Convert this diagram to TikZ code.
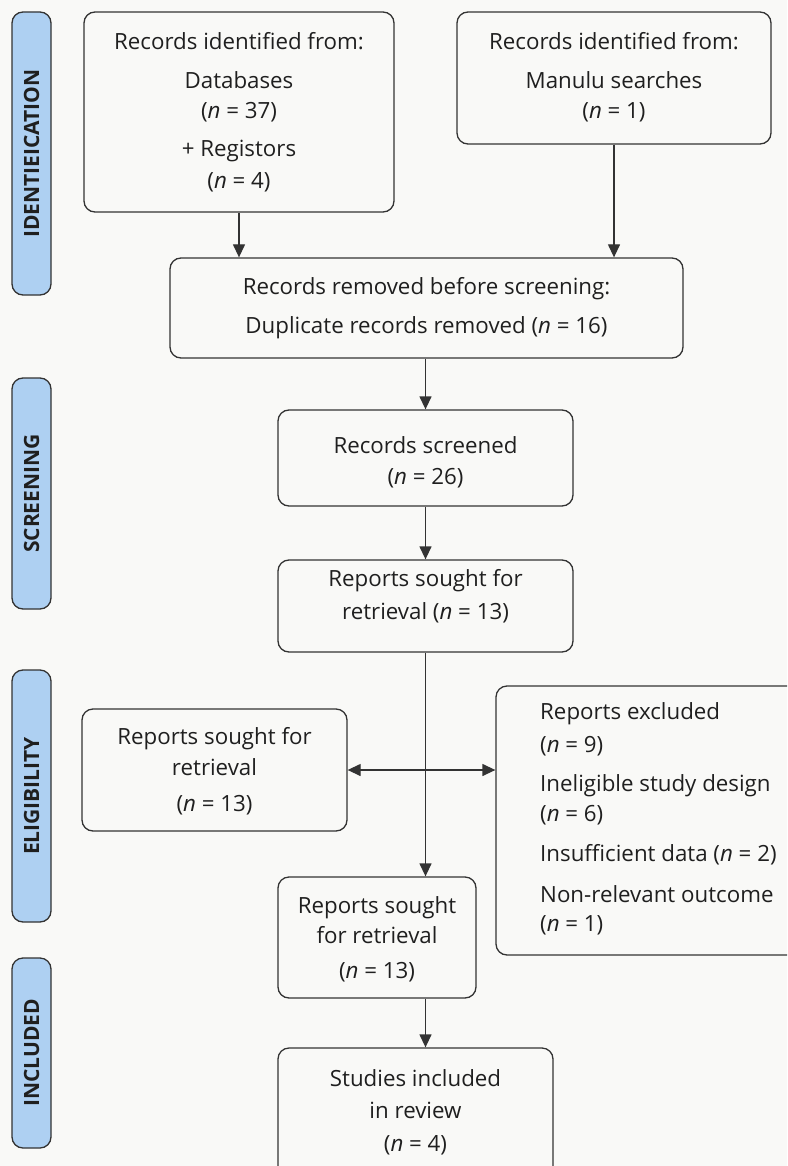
\documentclass[tikz,border=0pt]{standalone}
\usepackage{fontspec}
\setmainfont{Open Sans}
\usetikzlibrary{arrows.meta}
\definecolor{bg}{HTML}{F9F9F7}
\definecolor{ln}{HTML}{333333}
\definecolor{lab}{HTML}{AED0F2}
\tikzset{
  box/.style={draw=ln, line width=1.3pt, rounded corners=11pt, inner sep=0pt},
  txt/.style={align=center, inner sep=0pt, text=black!88, font=\fontsize{22.3}{30}\selectfont},
  side/.style={draw=ln, line width=1.3pt, fill=lab, rounded corners=11pt, rotate=90, inner sep=0pt,
    text=black!88, font=\fontsize{21}{22}\selectfont\bfseries},
  arr/.style={draw=ln, line width=1.3pt, -{Triangle[length=13pt,width=12pt]}},
  darr/.style={draw=ln, line width=1.3pt, {Triangle[length=13pt,width=12pt]}-{Triangle[length=13pt,width=12pt]}}
}
\begin{document}
\begin{tikzpicture}[x=1pt,y=-1pt]
\fill[bg] (0,0) rectangle (787,1166);
\useasboundingbox (0,0) rectangle (787,1166);
\clip (0,0) rectangle (787,1166);

% side labels
\node[side, minimum width=283pt, minimum height=39pt] (s1) at (31.5,153.5) {IDENTIEICATION};
\node[side, minimum width=231pt, minimum height=39pt] (s2) at (31.5,493.5) {SCREENING};
\node[side, minimum width=252pt, minimum height=39pt] (s3) at (31.5,796) {ELIGIBILITY};
\node[side, minimum width=190pt, minimum height=39pt] (s4) at (31.5,1053) {INCLUDED};

% boxes
\node[box, minimum width=310pt, minimum height=200pt] (b1) at (239,112) {};
\node[txt] (b1t) at (239,112.5) {Records identified from:\\[9pt]Databases\\(\textit{n} = 37)\\[8pt]+ Registors\\[2pt](\textit{n} = 4)};

\node[box, minimum width=314pt, minimum height=132pt] (b2) at (614,78) {};
\node[txt] (b2t) at (614,77.5) {Records identified from:\\[9pt]Manulu searches\\(\textit{n} = 1)};

\node[box, minimum width=513pt, minimum height=100pt] (b3) at (426.5,308) {};
\node[txt] (b3t) at (426.5,308.5) {Records removed before screening:\\[9pt]Duplicate records removed (\textit{n} = 16)};

\node[box, minimum width=295pt, minimum height=96pt] (sc) at (425.5,458) {};
\node[txt] (sct) at (425.5,462.5) {Records screened\\[1pt](\textit{n} = 26)};

\node[box, minimum width=295pt, minimum height=92pt] (r1) at (425.5,606) {};
\node[txt] (r1t) at (425.5,596.5) {Reports sought for\\[3pt]retrieval (\textit{n} = 13)};

\node[box, minimum width=265pt, minimum height=122pt] (el) at (214.5,770) {};
\node[txt] (elt) at (214.5,771.5) {Reports sought for\\[1pt]retrieval\\[6pt](\textit{n} = 13)};

\node[box, minimum width=304pt, minimum height=269pt] (ex) at (648,820.5) {};
\node[txt, align=left, anchor=west] (ext) at (540,819) {Reports excluded\\[3pt](\textit{n} = 9)\\[9pt]Ineligible study design\\(\textit{n} = 6)\\[10pt]Insufficient data (\textit{n} = 2)\\[11pt]Non-relevant outcome\\[-1pt](\textit{n} = 1)};

\node[box, minimum width=198pt, minimum height=121pt] (mid) at (377,937.5) {};
\node[txt] (midt) at (377,939.5) {Reports sought\\for retrieval\\[5pt](\textit{n} = 13)};

\node[box, minimum width=275pt, minimum height=134pt] (st) at (415.5,1115) {};
\node[txt] (stt) at (415.5,1112.5) {Studies included\\[2pt]in review\\[3pt](\textit{n} = 4)};

% connectors
\draw[arr] (b1.south) -- (b1.south |- b3.north);
\draw[arr] (b2.south) -- (b2.south |- b3.north);
\draw[arr] (sc.north |- b3.south) -- (sc.north);
\draw[arr] (r1.north |- sc.south) -- (r1.north);
\draw[arr] (r1.south) -- (r1.south |- mid.north);
\draw[darr] (el.east) -- (el.east -| ex.west);
\draw[arr] (r1.south |- mid.south) -- (r1.south |- st.north);
\end{tikzpicture}
\end{document}
